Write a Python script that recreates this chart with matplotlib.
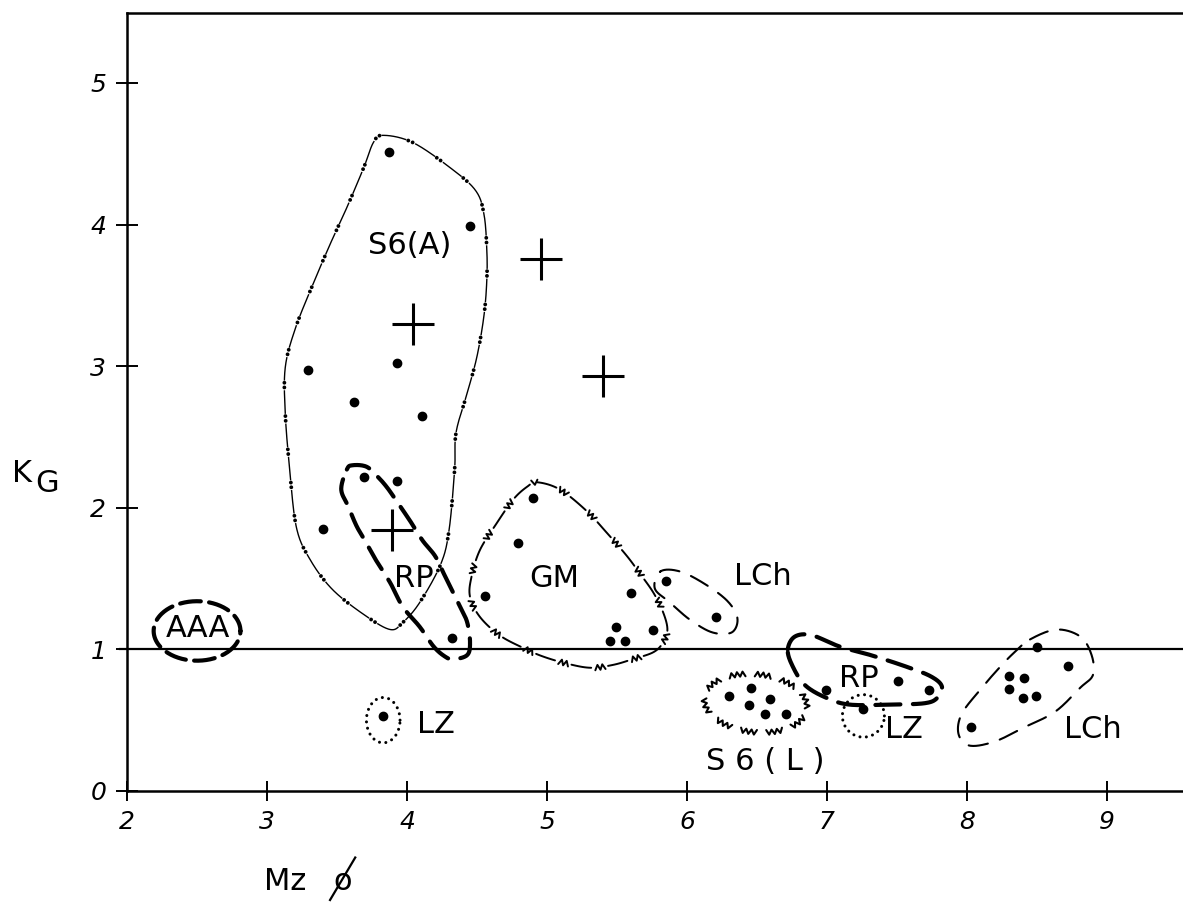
import numpy as np
import matplotlib
matplotlib.use('Agg')
from matplotlib import pyplot as plt
from matplotlib.collections import LineCollection

plt.rcParams['font.family'] = ['DejaVu Sans']
plt.rcParams['lines.scale_dashes'] = False

# axis ticks
xticks = [2, 3, 4, 5, 6, 7, 8, 9]
yticks = [0, 1, 2, 3, 4, 5]

# samples: mean size Mz (phi) vs KG
dots_x = [3.87, 4.45, 3.29, 3.93, 3.62, 4.11, 3.40,
          3.69, 3.93, 4.32,
          4.90, 4.79, 4.56, 5.60, 5.49, 5.45, 5.56, 5.76,
          5.85, 6.21,
          3.83,
          6.30, 6.46, 6.59, 6.44, 6.56, 6.71,
          6.99, 7.51, 7.73,
          7.26,
          8.50, 8.72, 8.30, 8.41, 8.30, 8.40, 8.49, 8.03]
dots_y = [4.51, 3.99, 2.97, 3.02, 2.75, 2.65, 1.85,
          2.22, 2.19, 1.08,
          2.07, 1.75, 1.38, 1.40, 1.16, 1.06, 1.06, 1.14,
          1.48, 1.23,
          0.53,
          0.67, 0.73, 0.65, 0.61, 0.54, 0.54,
          0.71, 0.78, 0.71,
          0.58,
          1.02, 0.88, 0.81, 0.80, 0.72, 0.66, 0.67, 0.45]

# crosses
cross_x = [4.96, 4.04, 5.40, 3.89]
cross_y = [3.76, 3.30, 2.93, 1.84]

# group outlines (x, y)
s6a_edge = [(3.83, 4.63), (4.04, 4.58), (4.31, 4.40), (4.49, 4.24), (4.55, 4.07),
            (4.57, 3.82), (4.57, 3.61), (4.55, 3.36), (4.50, 3.07), (4.43, 2.81),
            (4.35, 2.53), (4.34, 2.27), (4.30, 1.84), (4.24, 1.60), (4.09, 1.33),
            (3.97, 1.19), (3.88, 1.14), (3.70, 1.24), (3.47, 1.42), (3.31, 1.63),
            (3.21, 1.86), (3.16, 2.29), (3.13, 2.67), (3.13, 2.99), (3.20, 3.26),
            (3.32, 3.56), (3.45, 3.86), (3.57, 4.12), (3.69, 4.40), (3.76, 4.58)]
rp_left_edge = [(3.57, 2.27), (3.61, 2.30), (3.71, 2.29), (3.79, 2.22), (3.86, 2.14),
                (3.93, 2.04), (4.02, 1.91), (4.11, 1.77), (4.20, 1.66), (4.26, 1.54),
                (4.32, 1.42), (4.38, 1.30), (4.43, 1.19), (4.45, 1.05), (4.43, 0.96),
                (4.33, 0.93), (4.27, 0.95), (4.19, 1.02), (4.09, 1.16), (3.97, 1.30),
                (3.88, 1.47), (3.79, 1.61), (3.71, 1.75), (3.64, 1.87), (3.58, 2.01),
                (3.53, 2.13)]
gm_edge = [(4.93, 2.18), (5.09, 2.13), (5.28, 1.98), (5.43, 1.82), (5.57, 1.66),
           (5.66, 1.54), (5.76, 1.40), (5.83, 1.26), (5.86, 1.14), (5.83, 1.05),
           (5.76, 0.98), (5.61, 0.93), (5.47, 0.89), (5.31, 0.87), (5.14, 0.90),
           (4.97, 0.95), (4.83, 1.01), (4.66, 1.10), (4.52, 1.23), (4.45, 1.37),
           (4.46, 1.51), (4.52, 1.70), (4.64, 1.89), (4.76, 2.06), (4.86, 2.15)]
lch_top_edge = [(5.81, 1.55), (5.95, 1.55), (6.13, 1.46), (6.29, 1.34), (6.36, 1.22),
                (6.32, 1.12), (6.18, 1.12), (6.02, 1.21), (5.88, 1.33), (5.77, 1.43)]
lch_right_edge = [(8.45, 1.07), (8.64, 1.14), (8.81, 1.09), (8.89, 0.96), (8.90, 0.82),
                  (8.81, 0.73), (8.63, 0.56), (8.41, 0.45), (8.20, 0.35), (8.02, 0.32),
                  (7.94, 0.40), (7.96, 0.54), (8.09, 0.71), (8.24, 0.88), (8.34, 0.98)]
rp_right_edge = [(6.72, 1.00), (6.77, 1.09), (6.89, 1.10), (7.09, 1.02), (7.31, 0.96),
                 (7.56, 0.88), (7.74, 0.81), (7.82, 0.74), (7.79, 0.66), (7.70, 0.62),
                 (7.45, 0.61), (7.16, 0.61), (6.99, 0.66), (6.84, 0.75), (6.75, 0.89)]
# rings: centre x, centre y, width, height, angle
aaa_ring = (2.50, 1.13, 0.62, 0.42, 0)
lz_left_ring = (3.83, 0.50, 0.24, 0.32, 0)
lz_right_ring = (7.26, 0.53, 0.30, 0.30, 0)
s6l_ring = (6.49, 0.62, 0.74, 0.41, -6)

# group names: text, x, baseline y
names = [('S6(A)', 4.02, 3.79), ('RP', 4.05, 1.44), ('GM', 5.05, 1.44),
         ('LCh', 6.54, 1.455), ('AAA', 2.51, 1.09), ('LZ', 4.21, 0.41),
         ('RP', 7.23, 0.735), ('LZ', 7.55, 0.375), ('S 6 ( L )', 6.56, 0.15),
         ('LCh', 8.90, 0.375)]


def closed_curve(pts, n=24):
    # periodic Catmull-Rom through the outline points
    P = np.asarray(pts, dtype=float)
    m = len(P)
    t = np.linspace(0, 1, n, endpoint=False)[:, None]
    out = []
    for i in range(m):
        p0, p1, p2, p3 = P[i-1], P[i], P[(i+1) % m], P[(i+2) % m]
        out.append(0.5*(2*p1 + (p2-p0)*t + (2*p0-5*p1+4*p2-p3)*t**2
                        + (-p0+3*p1-3*p2+p3)*t**3))
    out.append(P[:1])
    return np.vstack(out)


def ring(cx, cy, w, h, ang, n=200):
    a = np.radians(ang)
    t = np.linspace(0, 2*np.pi, n)
    ex, ey = 0.5*w*np.cos(t), 0.5*h*np.sin(t)
    return np.column_stack([cx + ex*np.cos(a) - ey*np.sin(a),
                            cy + ex*np.sin(a) + ey*np.cos(a)])


def wiggle(ax, curve, dash, zig, gap, amp, tooth, lw):
    # dashes broken by small zigzags, lengths in pixels
    P = ax.transData.transform(curve)
    s = np.concatenate([[0], np.cumsum(np.hypot(*np.diff(P, axis=0).T))])
    total = s[-1]

    def at(q):
        return np.column_stack([np.interp(q, s, P[:, 0]), np.interp(q, s, P[:, 1])])

    pieces = []
    pos = 0.0
    while pos < total - 2:
        if dash > 0:
            q = np.linspace(pos, min(pos+dash, total), 10)
            pieces.append(at(q))
            pos += dash + gap
        if pos < total - 2:
            q = np.arange(pos, min(pos+zig, total), tooth/2.0)
            if len(q) > 1:
                tg = at(q+0.5) - at(q-0.5)
                tg /= np.hypot(tg[:, 0], tg[:, 1])[:, None]
                nrm = np.column_stack([-tg[:, 1], tg[:, 0]])
                sgn = np.where(np.arange(len(q)) % 2 == 0, 1.0, -1.0)
                pieces.append(at(q) + nrm*amp*sgn[:, None])
            pos += zig + gap
    inv = ax.transData.inverted()
    ax.add_collection(LineCollection([inv.transform(p) for p in pieces], colors='k',
                                     linewidths=lw, capstyle='round', joinstyle='round'))


fig = plt.figure(figsize=(11.83, 9.02), dpi=100)
ax = fig.add_axes([0.1074, 0.1231, 0.8926, 0.8625])
ax.set_xlim(2, 9.543)
ax.set_ylim(0, 5.494)

for side in ['left', 'bottom', 'top']:
    ax.spines[side].set_linewidth(1.8)
ax.spines['right'].set_visible(False)
ax.set_xticks(xticks)
ax.set_yticks(yticks)
ax.set_xticklabels([str(v) for v in xticks], fontsize=18, style='italic')
ax.set_yticklabels([str(v) for v in yticks], fontsize=18, style='italic')
ax.tick_params(axis='x', direction='inout', length=14, width=1.4, pad=7)
ax.tick_params(axis='y', direction='inout', length=16, width=1.4, pad=7)

# KG = 1 reference line
ax.plot([1.95, 9.6], [1, 1], c='k', lw=1.6, clip_on=False)

# S6(A): dash with double dots
c = closed_curve(s6a_edge)
ax.plot(c[:, 0], c[:, 1], c='k', lw=1.0, linestyle=(0, (17, 7)))
ax.plot(c[:, 0], c[:, 1], c='k', lw=2.8, linestyle=(5.5, (0.01, 3.4, 0.01, 20.6)),
        dash_capstyle='round')

# RP: heavy dashes
for edge in [rp_left_edge, rp_right_edge]:
    c = closed_curve(edge)
    ax.plot(c[:, 0], c[:, 1], c='k', lw=3.0, linestyle=(0, (18, 9)), dash_capstyle='round')
c = ring(*aaa_ring)
ax.plot(c[:, 0], c[:, 1], c='k', lw=3.0, linestyle=(3, (15, 6)), dash_capstyle='round')

# LCh: light dashes
for edge in [lch_top_edge, lch_right_edge]:
    c = closed_curve(edge)
    ax.plot(c[:, 0], c[:, 1], c='k', lw=1.5, linestyle=(0, (14, 9)), dash_capstyle='round')

# LZ: dotted rings
for r in [lz_left_ring, lz_right_ring]:
    c = ring(*r)
    ax.plot(c[:, 0], c[:, 1], c='k', lw=2.2, linestyle=(0, (0.01, 4.6)),
            dash_capstyle='round')

# GM and S6(L): zigzag outlines
wiggle(ax, closed_curve(gm_edge), dash=20, zig=11, gap=3, amp=2.6, tooth=5, lw=1.4)
wiggle(ax, ring(*s6l_ring), dash=0, zig=18, gap=8, amp=2.4, tooth=5.5, lw=1.5)

ax.plot(dots_x, dots_y, 'o', ms=6, c='k', mec='k')
ax.plot(cross_x, cross_y, '+', ms=30, mew=2.2, c='k')

for txt, x, y in names:
    ax.text(x, y, txt, fontsize=22, ha='center', va='baseline')

# axis titles
ax.text(1.25, 2.182, 'K', fontsize=22, ha='center', va='baseline', clip_on=False)
ax.text(1.43, 2.112, 'G', fontsize=22, ha='center', va='baseline', clip_on=False)
ax.text(3.13, -0.70, 'Mz', fontsize=22, ha='center', va='baseline', clip_on=False)
ax.text(3.54, -0.70, 'o', fontsize=22, ha='center', va='baseline', clip_on=False)
ax.plot([3.45, 3.63], [-0.77, -0.47], c='k', lw=1.6, clip_on=False)

fig.savefig('out.png', dpi=100)
